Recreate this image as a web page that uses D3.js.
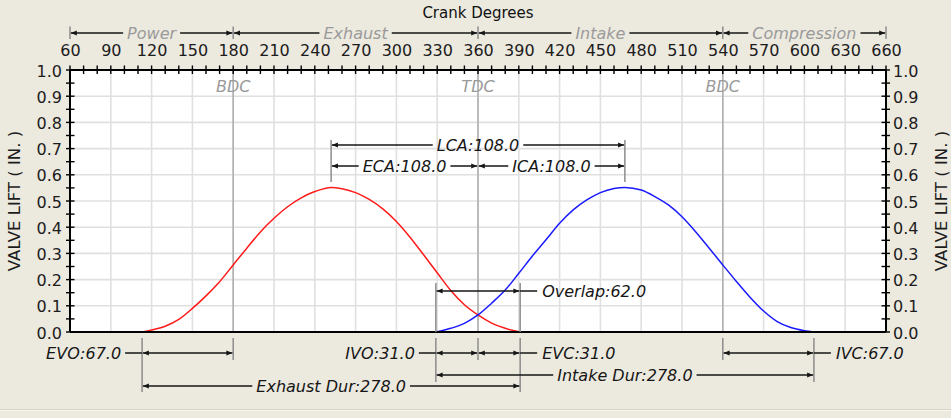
<!DOCTYPE html>
<html><head><meta charset="utf-8">
<script src="https://cdn.jsdelivr.net/npm/d3@7"></script>
<style>
html,body{margin:0;padding:0;background:#ECE9DF;}
svg{display:block;font-family:"DejaVu Sans",Verdana,sans-serif;}
</style></head><body>
<svg id="chart" width="951" height="418"></svg>
<script>
// ---------- data ----------
const xTickLabels = [60,90,120,150,180,210,240,270,300,330,360,390,420,450,480,510,540,570,600,630,660];
const yTickLabels = [0.0,0.1,0.2,0.3,0.4,0.5,0.6,0.7,0.8,0.9,1.0];
const phaseNames = ["Power","Exhaust","Intake","Compression"];
const phaseBounds = [60,180,360,540,660];
const centerDegs = [180,360,540];
const centerNames = ["BDC","TDC","BDC"];

const exhaustDeg  = [113,120,130,140,150,160,170,180,190,200,210,220,230,240,252,260,270,280,290,300,310,320,330,340,350,360,370,380,391];
const exhaustLift = [0,0.008,0.022,0.048,0.09,0.138,0.192,0.256,0.32,0.382,0.434,0.478,0.512,0.536,0.552,0.547,0.532,0.506,0.47,0.422,0.362,0.295,0.226,0.158,0.104,0.065,0.034,0.014,0];
const intakeDeg   = [329,340,350,360,370,380,390,400,410,420,430,440,450,460,468,480,490,500,510,520,530,540,550,560,570,580,590,600,607];
const intakeLift  = [0,0.014,0.033,0.065,0.11,0.16,0.224,0.29,0.352,0.415,0.466,0.504,0.532,0.548,0.552,0.542,0.517,0.485,0.44,0.383,0.32,0.256,0.193,0.133,0.08,0.04,0.017,0.005,0];

const EVO = 67, EVC = 31, IVO = 31, IVC = 67;
const LCA = 108, ECA = 108, ICA = 108, OVERLAP = 62;
const EXH_DUR = 278, INT_DUR = 278;

// ---------- setup ----------
const svg = d3.select("#chart");
const W = 951, H = 418;
const x = d3.scaleLinear().domain([60,660]).range([70,886]);
const y = d3.scaleLinear().domain([0,1]).range([332,70]);
const INK = "#161616", GRAYTXT = "#9a9a9a", BAR = "#8c8c8c";

// bottom separator
svg.append("line").attr("x1",0).attr("x2",W).attr("y1",409.5).attr("y2",409.5).attr("stroke","#d8d4c8");
svg.append("line").attr("x1",0).attr("x2",W).attr("y1",410.5).attr("y2",410.5).attr("stroke","#f7f5ef");

// plot bg
svg.append("rect").attr("x",x(60)).attr("y",y(1)).attr("width",x(660)-x(60)).attr("height",y(0)-y(1)).attr("fill","#fff");

// grid
const grid = svg.append("g").attr("stroke","#e0e0e0").attr("stroke-width",1.6);
grid.selectAll("line.v").data(xTickLabels.slice(1,-1)).join("line")
  .attr("x1",d=>x(d)).attr("x2",d=>x(d)).attr("y1",y(1)).attr("y2",y(0));
grid.selectAll("line.h").data(yTickLabels.slice(1,-1)).join("line")
  .attr("x1",x(60)).attr("x2",x(660)).attr("y1",d=>y(d)).attr("y2",d=>y(d));

// dead-centre lines
svg.append("g").selectAll("line").data(centerDegs).join("line")
  .attr("x1",d=>x(d)).attr("x2",d=>x(d)).attr("y1",y(1)).attr("y2",y(0))
  .attr("stroke","#b0b0b0").attr("stroke-width",1.6);
svg.append("g").selectAll("text").data(centerDegs).join("text")
  .attr("x",d=>x(d)).attr("y",92).attr("text-anchor","middle")
  .attr("font-size",16).attr("font-style","italic").attr("fill",GRAYTXT)
  .text((d,i)=>centerNames[i]);

// ---------- helpers ----------
function vbar(deg,y1,y2){
  svg.append("line").attr("x1",x(deg)).attr("x2",x(deg)).attr("y1",y1).attr("y2",y2)
    .attr("stroke",BAR).attr("stroke-width",1.5);
}
function head(px,py,dir){
  const L=6,h=2.6;
  svg.append("path").attr("d",`M${px},${py}L${px-dir*L},${py-h}L${px-dir*L},${py+h}Z`).attr("fill",INK);
}
function hline(x1,x2,py){
  if (x2<=x1) return;
  svg.append("line").attr("x1",x1).attr("x2",x2).attr("y1",py).attr("y2",py)
    .attr("stroke",INK).attr("stroke-width",1.5);
}
function label(txt,px,py,anchor,fill){
  return svg.append("text").attr("x",px).attr("y",py).attr("dy","0.36em")
    .attr("text-anchor",anchor).attr("font-size",16).attr("font-style","italic")
    .attr("fill",fill||INK).text(txt);
}
function dim(d1,d2,py,txt,fill){
  const a=x(d1)+0.8, b=x(d2)-0.8;
  head(a,py,-1); head(b,py,1);
  if (txt){
    const c=(a+b)/2;
    const t=label(txt,c,py,"middle",fill);
    const w=t.node().getComputedTextLength();
    hline(a,c-w/2-4,py); hline(c+w/2+4,b,py);
  } else hline(a,b,py);
}
function extLeft(deg,py,txt){
  const a=x(deg);
  hline(a-17,a,py);
  label(txt,a-21,py,"end");
}
function extRight(deg,py,txt){
  const a=x(deg);
  hline(a,a+17,py);
  label(txt,a+22,py,"start");
}

// ---------- curves ----------
const line = d3.line().x(d=>x(d[0])).y(d=>y(d[1])).curve(d3.curveMonotoneX);
svg.append("path").datum(d3.zip(exhaustDeg,exhaustLift)).attr("d",line)
  .attr("fill","none").attr("stroke","#ff1a1a").attr("stroke-width",1.5);
svg.append("path").datum(d3.zip(intakeDeg,intakeLift)).attr("d",line)
  .attr("fill","none").attr("stroke","#1a1aff").attr("stroke-width",1.5);

// ---------- frame & ticks ----------
const frame = svg.append("g").attr("stroke","#000").attr("stroke-width",2);
frame.append("line").attr("x1",x(60)).attr("x2",x(660)).attr("y1",y(1)).attr("y2",y(1));
frame.append("line").attr("x1",x(60)).attr("x2",x(660)).attr("y1",y(0)).attr("y2",y(0));
frame.append("line").attr("x1",x(60)).attr("x2",x(60)).attr("y1",y(1)).attr("y2",y(0));
frame.append("line").attr("x1",x(660)).attr("x2",x(660)).attr("y1",y(1)).attr("y2",y(0));

const tk = svg.append("g").attr("stroke","#000").attr("stroke-width",1.4);
tk.selectAll("line.t").data(d3.range(60,661,10)).join("line")
  .attr("x1",d=>x(d)).attr("x2",d=>x(d)).attr("y1",y(1)-4.5).attr("y2",y(1)+4);
const yMinor = d3.range(0,21).map(i=>i/20);
tk.selectAll("line.l").data(yMinor).join("line")
  .attr("x1",x(60)-4).attr("x2",x(60)+4.5).attr("y1",d=>y(d)).attr("y2",d=>y(d));
tk.selectAll("line.r").data(yMinor).join("line")
  .attr("x1",x(660)-4.5).attr("x2",x(660)+4).attr("y1",d=>y(d)).attr("y2",d=>y(d));

function styleAxis(g){
  g.select(".domain").remove();
  g.selectAll(".tick line").remove();
  g.attr("font-family",null).attr("font-size",16);
  g.selectAll("text").attr("fill","#1c1c1c");
}
svg.append("g").attr("transform",`translate(0,${y(1)})`)
  .call(d3.axisTop(x).tickValues(xTickLabels).tickSize(0).tickPadding(14)).call(styleAxis);
svg.append("g").attr("transform",`translate(${x(60)},1)`)
  .call(d3.axisLeft(y).tickValues(yTickLabels).tickSize(0).tickPadding(8).tickFormat(d3.format(".1f"))).call(styleAxis);
svg.append("g").attr("transform",`translate(${x(660)},1)`)
  .call(d3.axisRight(y).tickValues(yTickLabels).tickSize(0).tickPadding(7).tickFormat(d3.format(".1f"))).call(styleAxis);

// titles
svg.append("text").attr("x",(x(60)+x(660))/2).attr("y",17.5).attr("text-anchor","middle")
  .attr("font-size",15).attr("fill","#111").text("Crank Degrees");
svg.append("text").attr("transform",`translate(20,${(y(0)+y(1))/2}) rotate(-90)`)
  .attr("text-anchor","middle").attr("font-size",16.5).attr("fill","#1c1c1c").text("VALVE LIFT ( IN. )");
svg.append("text").attr("transform",`translate(947,${(y(0)+y(1))/2}) rotate(-90)`)
  .attr("text-anchor","middle").attr("font-size",16.5).attr("fill","#1c1c1c").text("VALVE LIFT ( IN. )");

// ---------- phase row ----------
phaseBounds.forEach(b=>vbar(b,26.5,39));
phaseNames.forEach((n,i)=>dim(phaseBounds[i],phaseBounds[i+1],33,n,GRAYTXT));

// ---------- centreline annotations ----------
const exhCL = 360-LCA, intCL = 360+LCA;
vbar(exhCL,140,182); vbar(intCL,140,182);
dim(exhCL,intCL,145,"LCA:"+LCA.toFixed(1));
dim(360-ECA,360,166,"ECA:"+ECA.toFixed(1));
dim(360,360+ICA,166,"ICA:"+ICA.toFixed(1));

// ---------- event points ----------
const evoDeg = 180-EVO, evcDeg = 360+EVC, ivoDeg = 360-IVO, ivcDeg = 540+IVC;

vbar(ivoDeg,283,332); vbar(evcDeg,283,332);
dim(ivoDeg,evcDeg,291);
extRight(evcDeg,291,"Overlap:"+OVERLAP.toFixed(1));

vbar(evoDeg,338,392); vbar(180,338,360);
vbar(ivoDeg,338,382); vbar(360,338,360); vbar(evcDeg,338,392);
vbar(540,338,360); vbar(ivcDeg,338,382);

dim(evoDeg,180,353); extLeft(evoDeg,353,"EVO:"+EVO.toFixed(1));
dim(ivoDeg,360,353); dim(360,evcDeg,353);
extLeft(ivoDeg,353,"IVO:"+IVO.toFixed(1));
extRight(evcDeg,353,"EVC:"+EVC.toFixed(1));
dim(540,ivcDeg,353); extRight(ivcDeg,353,"IVC:"+IVC.toFixed(1));
dim(ivoDeg,ivcDeg,375,"Intake Dur:"+INT_DUR.toFixed(1));
dim(evoDeg,evcDeg,386,"Exhaust Dur:"+EXH_DUR.toFixed(1));
</script>
</body></html>
